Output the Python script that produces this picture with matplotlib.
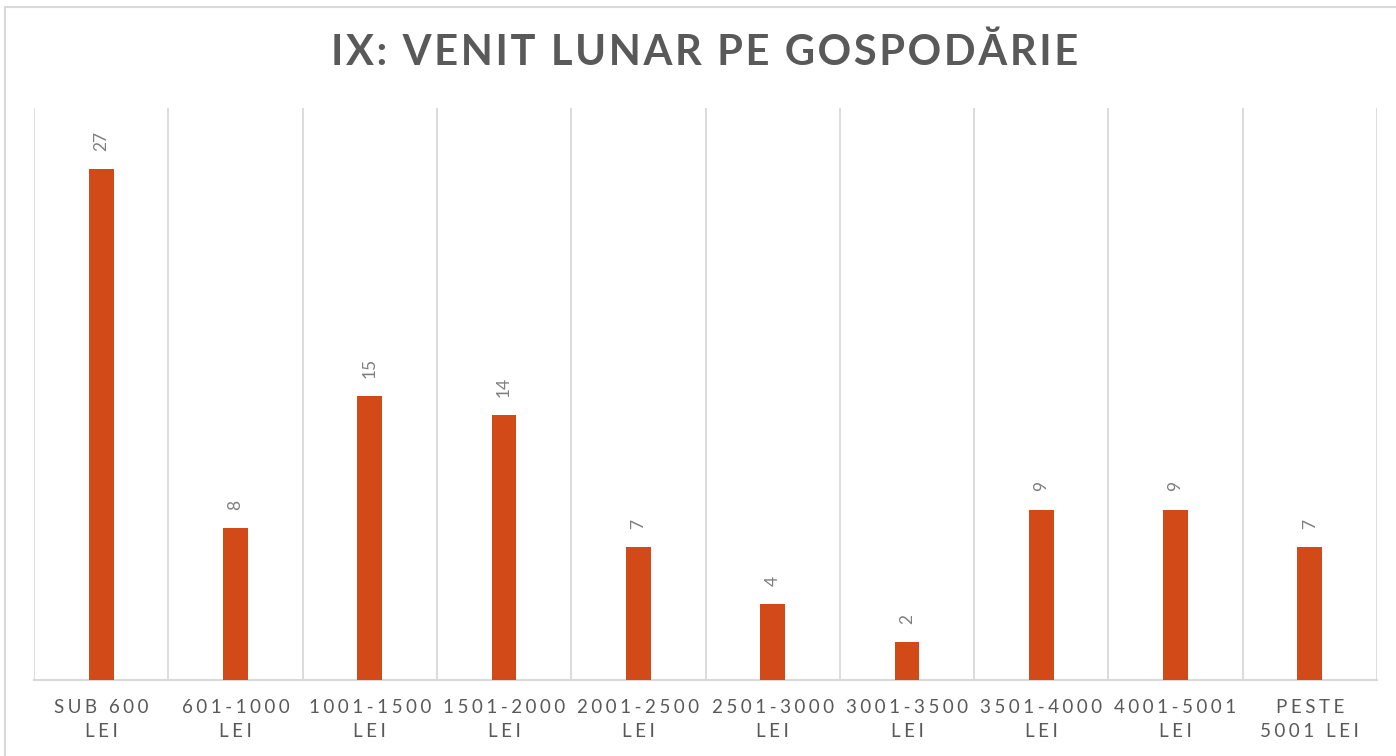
import matplotlib
matplotlib.use("Agg")
import matplotlib.pyplot as plt
from matplotlib.patches import Rectangle

plt.rcParams['font.family'] = ['Lato', 'DejaVu Sans']

title_text = "IX: VENIT LUNAR PE GOSPODĂRIE"
categories_top = ["SUB 600", "601-1000", "1001-1500", "1501-2000", "2001-2500",
                  "2501-3000", "3001-3500", "3501-4000", "4001-5001", "PESTE"]
categories_bottom = ["LEI", "LEI", "LEI", "LEI", "LEI",
                     "LEI", "LEI", "LEI", "LEI", "5001 LEI"]
values = [27, 8, 15, 14, 7, 4, 2, 9, 9, 7]

bar_color = '#D24A18'
text_color = '#595959'
grid_color = '#D9D9D9'


def spaced(s, gap='\u2009'):
    # fake letter spacing with thin spaces
    return gap.join(list(s))


fig = plt.figure(figsize=(13.96, 7.56), dpi=100)
fig.patches.append(Rectangle((5 / 1396, -0.1), 1.2, 1.1 - 7 / 756, transform=fig.transFigure,
                             fill=False, edgecolor=grid_color, linewidth=1.5))

ax = fig.add_axes([34 / 1396, 1 - 680 / 756, (1377 - 34) / 1396, (680 - 108) / 756])
x = list(range(len(values)))
ax.bar(x, values, width=0.185, color=bar_color, zorder=3)
ax.set_xlim(-0.5, len(values) - 0.5)
ax.set_ylim(0, 30.2)

for i, v in enumerate(values):
    ax.annotate(str(v), (i, v), xytext=(0, 13), textcoords='offset points',
                rotation=90, ha='center', va='bottom', fontsize=12.5, color='#7F7F7F')

# category separators
for b in range(len(values) + 1):
    ax.axvline(b - 0.5, color=grid_color, linewidth=1.3, zorder=1)

for s in ['top', 'left', 'right']:
    ax.spines[s].set_visible(False)
ax.spines['bottom'].set_color(grid_color)
ax.spines['bottom'].set_linewidth(1.5)
ax.set_yticks([])
ax.set_xticks(x)
labels = [spaced(t, '\u2009\u200a') + "\n" + spaced(b, '\u2009\u200a')
          for t, b in zip(categories_top, categories_bottom)]
ax.set_xticklabels(labels, fontsize=13.5, color=text_color, linespacing=1.45)
ax.tick_params(axis='x', length=0, pad=14)

fig.text(705 / 1396, 1 - 53 / 756, spaced(title_text, '\u200a'), ha='center', va='center',
         fontsize=30, fontweight='bold', color=text_color)

fig.savefig("out.png", dpi=100)
